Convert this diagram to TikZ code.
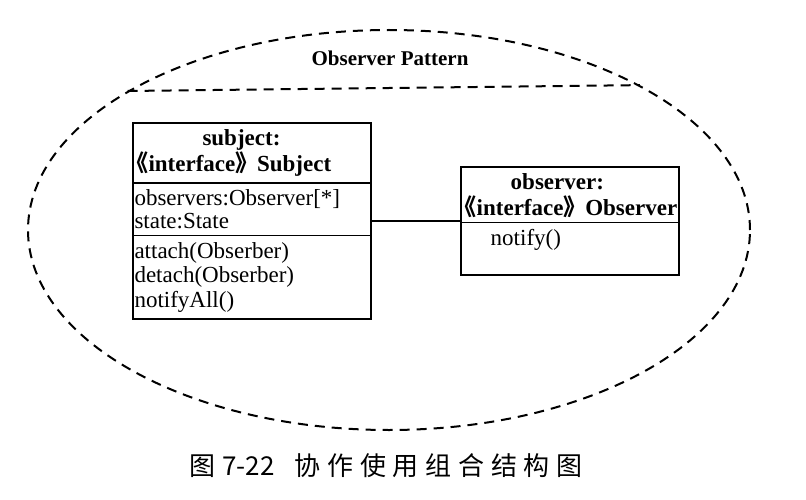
\documentclass[tikz,border=0pt]{standalone}
\usepackage{fontspec}
\setmainfont{Liberation Serif}
\newfontfamily\cjk{Noto Sans CJK SC}
\newfontfamily\cjkwide[LetterSpace=26]{Noto Sans CJK SC}
\newcommand\stereo[1]{{\cjk\kern-9pt\smash{《}}#1{\cjk\smash{》}\kern-7pt}}
\usetikzlibrary{shapes.geometric,shapes.multipart}

\begin{document}
\begin{tikzpicture}[x=1pt,y=-1pt]
        \tikzstyle{classbox}=[draw=black,line width=1.7pt,rectangle split,rectangle split part align=left,inner xsep=1.5pt,inner ysep=6pt,align=left,font=\fontsize{23}{22.5}\selectfont]
        \tikzstyle{frame}=[draw=black,line width=2pt,dash pattern=on 10pt off 7pt]
        \useasboundingbox (0,0) rectangle (806,500);
        \node[frame,ellipse,inner sep=0pt,minimum width=722,minimum height=400] (pattern) at (389,230) {};
        \draw[frame] (pattern.152) -- (pattern.30);
        \node[font=\bfseries\fontsize{21}{21}\selectfont] (title) at (390,58) {Observer Pattern};
        \node[classbox,rectangle split parts=3,minimum width=238] (subject) at (252,221) {%
            \hspace*{68pt}\textbf{subject:}\\[3pt]\textbf{\stereo{interface} Subject}
            \nodepart{second} observers:Observer[*]\\state:State
            \nodepart{third} attach(Obserber)\\[2pt]detach(Obserber)\\[2pt]notifyAll()};
        \node[classbox,rectangle split parts=2,minimum width=213] (observer) at (570,221) {%
            \hspace*{48pt}\textbf{observer:}\\[3pt]\textbf{\stereo{interface} Observer}
            \nodepart{second} \hspace*{28pt}notify()\\ \mbox{}};
        \draw[line width=1.7pt] (subject) -- (observer);
        \node[font=\fontsize{26}{26}\selectfont] (caption) at (386,466) {\cjk 图\hspace{7pt}7-22\hspace{20pt}\cjkwide 协作使用组合结构图};
    \end{tikzpicture}
\end{document}
